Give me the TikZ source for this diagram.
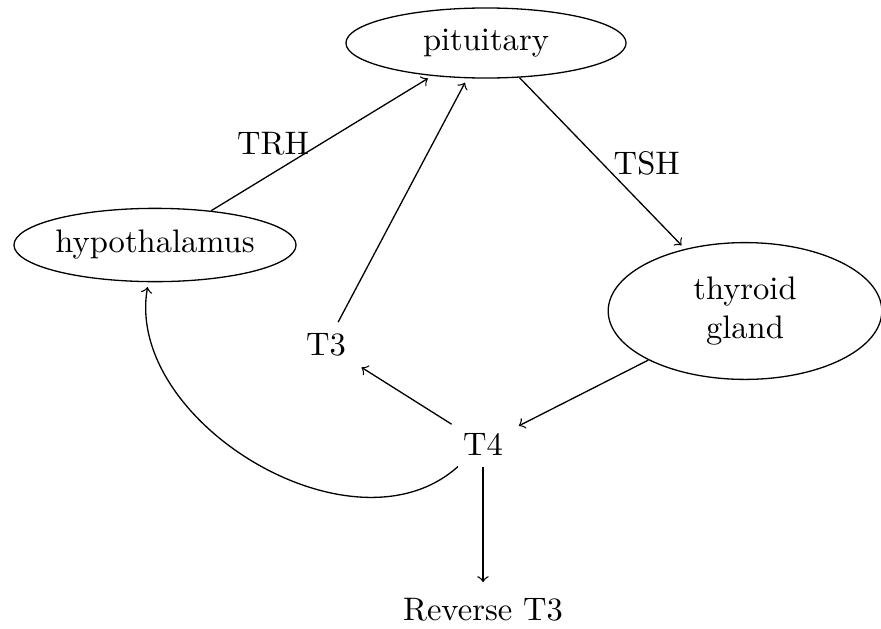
\documentclass[tikz,border=0pt]{standalone}
\usetikzlibrary{shapes.geometric}

\begin{document}
\begin{tikzpicture}[
    x=0.307pt, y=-0.307pt,
    % glandulas como elipses, hormonas como texto suelto
    organ/.style={
        ellipse,
        draw=black,
        inner sep=0pt,
        align=center
    },
    hormone/.style={inner sep=3.33pt},
    arr/.style={->, draw=black, shorten >=1.5pt}
]
    \useasboundingbox (0,0) rectangle (881,628);

    % --- GLANDULAS ---
    \node[organ, minimum width=86pt, minimum height=21.5pt] (pit) at (486,43) {pituitary};
    \node[organ, minimum width=86.6pt, minimum height=22.5pt] (hyp) at (155,245) {hypothalamus};
    \node[organ, minimum width=84pt, minimum height=42pt] (thy) at (745,311) {thyroid\\gland};

    % --- HORMONAS ---
    \node[hormone] (t3) at (326,345) {T3};
    \node[hormone] (t4) at (483,444) {T4};
    \node[hormone] (rt3) at (483,610) {Reverse T3};

    % --- CONEXIONES ---
    \draw[arr] (hyp) -- node[pos=0.28, above=2pt] {TRH} (pit);
    \draw[arr] (pit) -- node[pos=0.5, right] {TSH} (thy);
    \draw[arr] (thy) -- (t4);
    \draw[arr] (t4) -- (t3);
    \draw[arr] (t3) -- (pit);
    \draw[arr] (t4) -- (rt3);
    \draw[arr] (t4) to[out=222, in=-100] (hyp);

\end{tikzpicture}
\end{document}
